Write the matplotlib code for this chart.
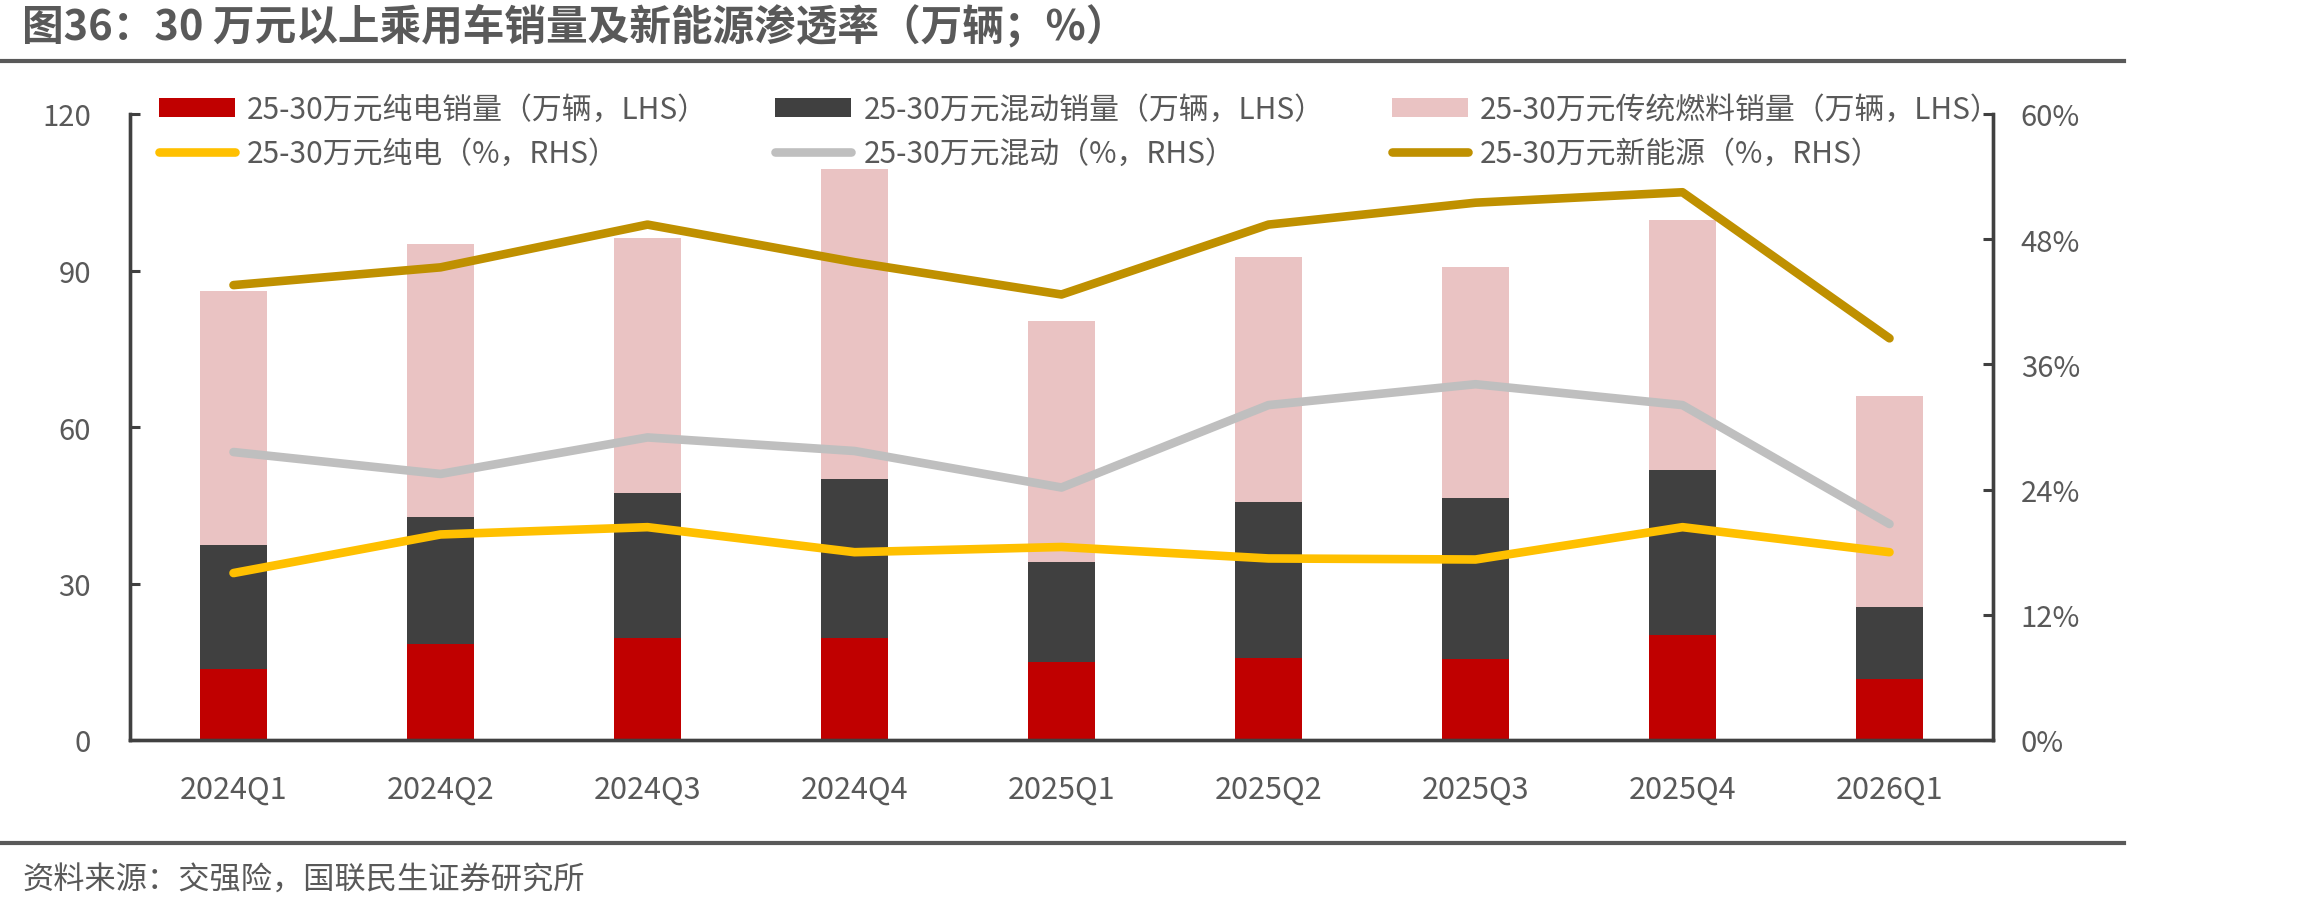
import matplotlib
matplotlib.use("Agg")
import matplotlib.pyplot as plt
import numpy as np
from matplotlib.ticker import FuncFormatter

plt.rcParams["font.family"] = ["Noto Sans CJK SC", "DejaVu Sans"]

quarters = ["2024Q1", "2024Q2", "2024Q3", "2024Q4", "2025Q1",
            "2025Q2", "2025Q3", "2025Q4", "2026Q1"]

# sales, 10k units (LHS)
bev_sales = [13.6, 18.4, 19.5, 19.5, 15.0, 15.8, 15.6, 20.1, 11.6]
hybrid_sales = [23.8, 24.3, 27.8, 30.6, 19.2, 29.8, 30.8, 31.7, 13.9]
ice_sales = [48.6, 52.4, 48.9, 59.4, 46.2, 47.0, 44.2, 47.8, 40.4]

# penetration, % (RHS)
bev_pct = [16.0, 19.7, 20.4, 18.0, 18.5, 17.4, 17.3, 20.4, 18.0]
hybrid_pct = [27.6, 25.5, 29.0, 27.7, 24.2, 32.1, 34.1, 32.1, 20.7]
nev_pct = [43.6, 45.3, 49.4, 45.8, 42.7, 49.4, 51.5, 52.5, 38.5]

series_names = [
    "25-30万元纯电销量（万辆，LHS）",
    "25-30万元混动销量（万辆，LHS）",
    "25-30万元传统燃料销量（万辆，LHS）",
    "25-30万元纯电（%，RHS）",
    "25-30万元混动（%，RHS）",
    "25-30万元新能源（%，RHS）",
]

TEXT = "#595959"
AXC = "#404040"

W, H = 2310, 912
fig = plt.figure(figsize=(W / 100, H / 100), dpi=100)
ax = fig.add_axes([130 / W, 1 - 741 / H, (1993 - 130) / W, (741 - 115) / H])
ax2 = ax.twinx()

x = np.arange(len(quarters))
bw = 0.32
bev_sales = np.array(bev_sales)
hybrid_sales = np.array(hybrid_sales)
ice_sales = np.array(ice_sales)

b1 = ax.bar(x, bev_sales, bw, color="#C00000", zorder=2)
b2 = ax.bar(x, hybrid_sales, bw, bottom=bev_sales, color="#404040", zorder=2)
b3 = ax.bar(x, ice_sales, bw, bottom=bev_sales + hybrid_sales,
            color="#EAC3C3", zorder=2)

lw = 6.2
l1, = ax2.plot(x, bev_pct, color="#FFC000", lw=lw, solid_capstyle="round",
               solid_joinstyle="round")
l2, = ax2.plot(x, hybrid_pct, color="#BFBFBF", lw=lw, solid_capstyle="round",
               solid_joinstyle="round")
l3, = ax2.plot(x, nev_pct, color="#BF9000", lw=lw, solid_capstyle="round",
               solid_joinstyle="round")

ax.set_xlim(-0.5, len(quarters) - 0.5)
ax.set_ylim(0, 120)
ax.set_yticks([0, 30, 60, 90, 120])
ax2.set_ylim(0, 60)
ax2.set_yticks([0, 12, 24, 36, 48, 60])
ax2.yaxis.set_major_formatter(FuncFormatter(lambda v, p: f"{v:.0f}%"))

ax.set_xticks(x)
ax.set_xticklabels(quarters)

for a in (ax, ax2):
    for s in a.spines.values():
        s.set_color(AXC)
        s.set_linewidth(2.4)
    a.spines["top"].set_visible(False)

ax.tick_params(axis="x", length=0, pad=24, labelsize=22, labelcolor=TEXT)
ax.tick_params(axis="y", direction="in", length=7, width=2.2, color=AXC,
               pad=28, labelsize=21, labelcolor=TEXT)
ax2.tick_params(axis="y", direction="in", length=7, width=2.2, color=AXC,
                pad=20, labelsize=21, labelcolor=TEXT)

handles = [b1, l1, b2, l2, b3, l3]
labels = [series_names[0], series_names[3], series_names[1],
          series_names[4], series_names[2], series_names[5]]
leg = fig.legend(handles, labels, ncol=3, loc="upper left",
                 bbox_to_anchor=(159 / W, 1 - 95 / H), frameon=False,
                 fontsize=21.5, labelcolor=TEXT, borderpad=0, borderaxespad=0,
                 handlelength=2.55, handleheight=0.6, handletextpad=0.4,
                 columnspacing=2.25, labelspacing=0.42)

fig.text(22 / W, 1 - 27 / H, "图36：30 万元以上乘用车销量及新能源渗透率（万辆；%）",
         fontsize=30, fontweight="bold", color=TEXT, va="center", ha="left")
fig.add_artist(plt.Line2D([0, 2124 / W], [1 - 62 / H, 1 - 62 / H],
                          color=TEXT, lw=3, transform=fig.transFigure))
fig.add_artist(plt.Line2D([0, 2124 / W], [1 - 844 / H, 1 - 844 / H],
                          color=TEXT, lw=3, transform=fig.transFigure))
fig.text(22 / W, 1 - 881 / H, "资料来源：交强险，国联民生证券研究所",
         fontsize=22.5, color=TEXT, va="center", ha="left")

fig.savefig("out.png", dpi=100, facecolor="white")
